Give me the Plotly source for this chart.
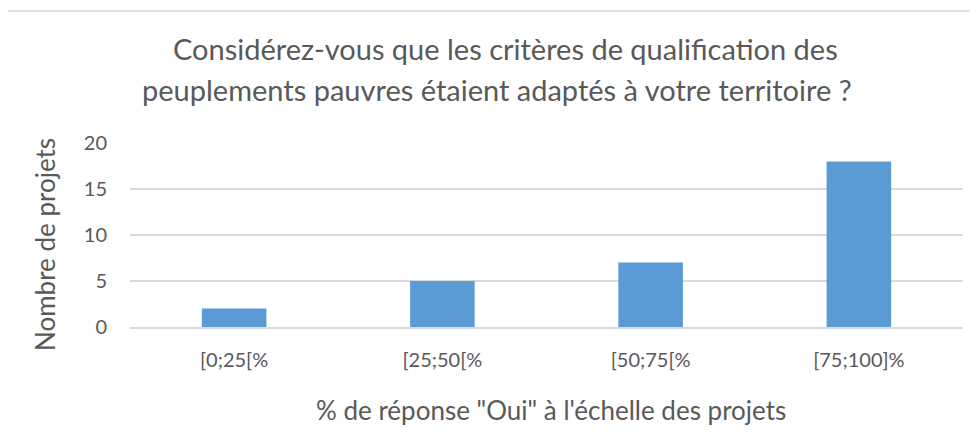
import plotly.graph_objects as go

categories = ["[0;25[%", "[25;50[%", "[50;75[%", "[75;100]%"]
values = [2, 5, 7, 18]
title_lines = ["Considérez-vous que les critères de qualification des",
               "peuplements pauvres étaient adaptés à votre territoire ?"]
y_title = "Nombre de projets"
x_title = "% de réponse \"Oui\" à l'échelle des projets"

OFF = 8  # page body margin
W, H = 978, 441
L, R, T, B = 130 - OFF, 978 - (963 - OFF), 143 - OFF, 441 - (327 - OFF)
pw, ph = W - L - R, H - T - B

def px(x):
    return (x - OFF - L) / pw

def py(y):
    return (H - B - (y - OFF)) / ph

FONT = "Lato"
GRAY = "#595959"

fig = go.Figure(go.Bar(
    x=categories, y=values,
    marker=dict(color="#5B9BD5", line=dict(width=0)),
    width=0.31,
))

fig.update_layout(
    width=W, height=H,
    margin=dict(l=L, r=R, t=T, b=B),
    paper_bgcolor="white", plot_bgcolor="white",
    showlegend=False,
    font=dict(family=FONT, color=GRAY, size=20),
    xaxis=dict(showgrid=False, showline=True, linecolor="#D9D9D9", linewidth=2,
               ticks="", tickfont=dict(size=20, color=GRAY), ticklabelstandoff=14),
    yaxis=dict(range=[0, 20], dtick=5, showgrid=True, gridcolor="#D9D9D9", gridwidth=1.5,
               zeroline=False, showline=False, ticks="",
               tickfont=dict(size=20, color=GRAY), ticklabelstandoff=22),
    bargap=0.69,
)

annotations = [
    dict(text=title_lines[0], x=px(505), y=py(48), xref="paper", yref="paper",
         showarrow=False, font=dict(size=29, color=GRAY, family=FONT), xanchor="center", yanchor="middle"),
    dict(text=title_lines[1], x=px(497), y=py(90), xref="paper", yref="paper",
         showarrow=False, font=dict(size=29, color=GRAY, family=FONT), xanchor="center", yanchor="middle"),
    dict(text=y_title, x=px(45), y=py(245), xref="paper", yref="paper", textangle=-90,
         showarrow=False, font=dict(size=26, color=GRAY, family=FONT), xanchor="center", yanchor="middle"),
    dict(text=x_title, x=px(551), y=py(410), xref="paper", yref="paper",
         showarrow=False, font=dict(size=26, color=GRAY, family=FONT), xanchor="center", yanchor="middle"),
]
fig.update_layout(annotations=annotations)

fig.add_shape(type="rect", xref="paper", yref="paper",
              x0=px(7), x1=px(995), y0=py(460), y1=py(11),
              line=dict(color="#D9D9D9", width=1.5), fillcolor="rgba(0,0,0,0)", layer="below")

fig.write_html("out.html")
